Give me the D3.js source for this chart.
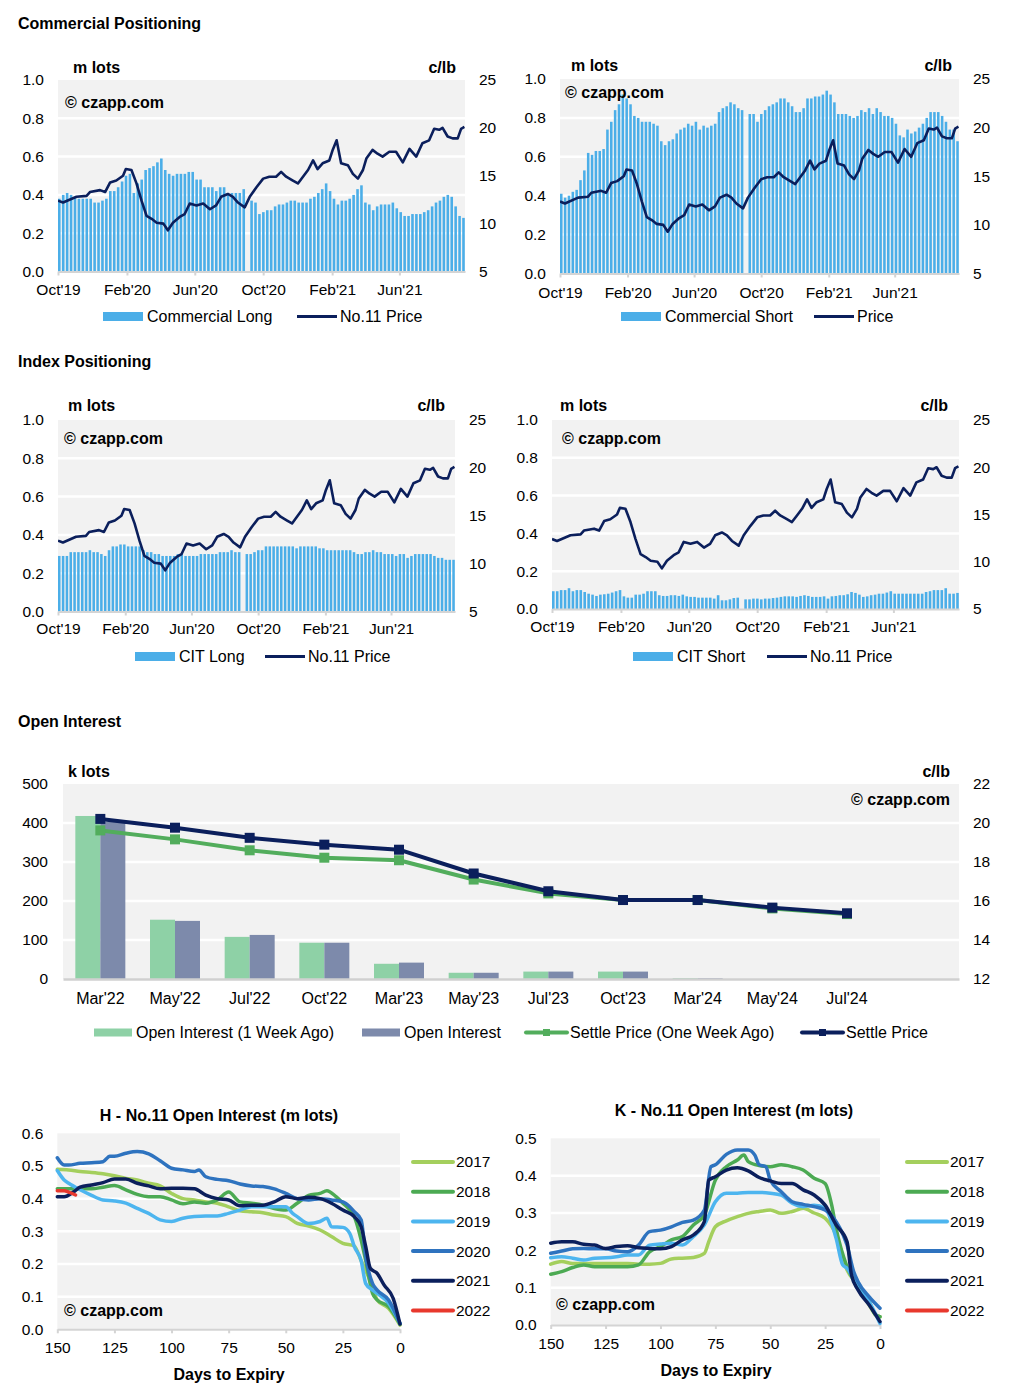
<!DOCTYPE html>
<html><head><meta charset="utf-8">
<script src="https://cdn.jsdelivr.net/npm/d3@7"></script>
<style>
body{margin:0;background:#fff;}
svg{display:block;font-family:"Liberation Sans",Arial,Helvetica,sans-serif;}
</style>
</head><body>
<svg id="c" width="1024" height="1400"></svg>
<script>
// ---------------- DATA ----------------
const weekStart = "2019-10-01";
const dateDomain = ["2019-10-01", "2021-09-26"];
const monthTicks = ["2019-10-01","2020-02-01","2020-06-01","2020-10-01","2021-02-01","2021-06-01"];
const monthTickLabels = ["Oct'19","Feb'20","Jun'20","Oct'20","Feb'21","Jun'21"];
const lotTicks = [0, 0.2, 0.4, 0.6, 0.8, 1.0];
const priceTicks = [5, 10, 15, 20, 25];

const commercialLong = [0.38,0.40,0.41,0.40,0.39,0.38,0.38,0.38,0.38,0.36,
 0.36,0.37,0.38,0.42,0.42,0.44,0.47,0.50,0.51,0.41,
 0.46,0.48,0.53,0.54,0.55,0.57,0.59,0.53,0.51,0.50,
 0.51,0.51,0.51,0.52,0.52,0.48,0.48,0.44,0.44,0.44,
 0.42,0.44,0.44,0.40,0.41,0.41,0.41,0.43,null,0.37,
 0.36,0.30,0.31,0.32,0.32,0.34,0.35,0.35,0.36,0.37,
 0.37,0.36,0.36,0.36,0.38,0.39,0.41,0.43,0.46,0.42,
 0.38,0.35,0.37,0.37,0.38,0.40,0.43,0.45,0.36,0.35,
 0.32,0.34,0.35,0.35,0.35,0.36,0.33,0.31,0.29,0.29,
 0.30,0.30,0.30,0.31,0.32,0.34,0.36,0.37,0.39,0.40,
 0.39,0.34,0.29,0.28];

const commercialShort = [0.41,0.39,0.40,0.42,0.43,0.48,0.53,0.62,0.61,0.63,
 0.63,0.64,0.74,0.78,0.84,0.87,0.92,0.90,0.87,0.81,
 0.80,0.78,0.78,0.78,0.77,0.76,0.68,0.66,0.68,0.69,
 0.72,0.74,0.75,0.77,0.76,0.78,0.74,0.76,0.75,0.76,
 0.77,0.83,0.85,0.86,0.88,0.87,0.85,0.84,null,0.82,
 0.82,0.78,0.82,0.84,0.86,0.87,0.88,0.90,0.90,0.88,
 0.86,0.83,0.83,0.85,0.90,0.90,0.91,0.91,0.92,0.94,
 0.92,0.88,0.82,0.82,0.82,0.81,0.80,0.81,0.84,0.83,
 0.85,0.82,0.85,0.83,0.81,0.81,0.80,0.77,0.71,0.70,
 0.74,0.72,0.73,0.75,0.77,0.80,0.83,0.83,0.83,0.81,
 0.78,0.74,0.74,0.68];

const citLong = [0.29,0.29,0.29,0.31,0.31,0.31,0.31,0.31,0.32,0.31,
 0.31,0.30,0.29,0.32,0.34,0.34,0.35,0.35,0.34,0.34,
 0.34,0.34,0.32,0.31,0.31,0.30,0.30,0.29,0.29,0.29,
 0.29,0.30,0.30,0.29,0.29,0.29,0.29,0.30,0.30,0.30,
 0.30,0.30,0.31,0.31,0.31,0.32,0.31,0.31,null,0.30,
 0.30,0.31,0.32,0.32,0.34,0.34,0.34,0.34,0.34,0.34,
 0.34,0.34,0.33,0.34,0.34,0.34,0.34,0.34,0.33,0.33,
 0.32,0.32,0.32,0.32,0.32,0.32,0.32,0.31,0.30,0.30,
 0.31,0.31,0.32,0.31,0.31,0.30,0.30,0.30,0.29,0.30,
 0.30,0.28,0.29,0.30,0.30,0.30,0.30,0.30,0.29,0.28,
 0.28,0.27,0.27,0.27];

const citShort = [0.094,0.094,0.10,0.10,0.11,0.094,0.10,0.10,0.09,0.081,
 0.076,0.069,0.076,0.078,0.081,0.087,0.094,0.10,0.067,0.06,
 0.06,0.076,0.076,0.081,0.094,0.094,0.094,0.073,0.069,0.069,
 0.073,0.073,0.069,0.076,0.067,0.064,0.064,0.06,0.06,0.06,
 0.06,0.055,0.073,0.046,0.046,0.051,0.058,0.06,null,0.051,
 0.051,0.055,0.055,0.051,0.055,0.055,0.058,0.06,0.064,0.067,
 0.067,0.067,0.064,0.069,0.073,0.069,0.064,0.064,0.064,0.067,
 0.055,0.067,0.069,0.073,0.073,0.078,0.09,0.085,0.076,0.064,
 0.067,0.073,0.076,0.081,0.081,0.087,0.094,0.081,0.081,0.081,
 0.081,0.081,0.081,0.081,0.081,0.09,0.094,0.10,0.10,0.10,
 0.11,0.081,0.081,0.085];

const priceDates = ["2019-10-01","2019-10-10","2019-11-03","2019-11-21","2019-11-27","2019-12-15","2019-12-24",
 "2020-01-02","2020-01-13","2020-01-25","2020-01-30","2020-02-09","2020-02-18","2020-02-27","2020-03-07",
 "2020-03-16","2020-03-25","2020-04-06","2020-04-14","2020-04-23","2020-05-05","2020-05-14","2020-05-23",
 "2020-06-04","2020-06-16","2020-06-28","2020-07-09","2020-07-18","2020-07-30","2020-08-08","2020-08-17",
 "2020-08-29","2020-09-07","2020-09-19","2020-10-01","2020-10-12","2020-10-24","2020-11-02","2020-11-11",
 "2020-11-23","2020-12-02","2020-12-11","2020-12-20","2020-12-29","2021-01-06","2021-01-15","2021-01-27",
 "2021-02-02","2021-02-09","2021-02-17","2021-03-01","2021-03-10","2021-03-19","2021-03-28","2021-04-03",
 "2021-04-14","2021-04-23","2021-05-02","2021-05-14","2021-05-26","2021-06-07","2021-06-19","2021-07-01",
 "2021-07-12","2021-07-24","2021-08-02","2021-08-11","2021-08-17","2021-08-26","2021-09-04","2021-09-13",
 "2021-09-19","2021-09-25"];
const priceValues = [12.4,12.2,12.8,12.9,13.3,13.5,13.3,
 14.3,14.5,15.0,15.7,15.6,14.2,12.4,10.8,
 10.5,10.1,10.0,9.3,10.1,10.7,11.0,12.1,
 11.9,12.1,11.5,11.9,12.8,13.1,12.8,12.2,
 11.7,12.8,13.8,14.7,14.9,14.9,15.4,14.9,
 14.5,14.2,14.9,15.6,16.6,15.7,16.3,16.6,
 17.7,18.7,16.3,16.1,15.2,14.7,15.6,16.8,
 17.7,17.3,17.0,17.5,17.5,16.4,17.8,17.0,
 18.4,18.7,19.9,19.8,20.0,19.1,18.9,18.9,
 19.9,20.1];

// Open interest by contract
const contracts = ["Mar'22","May'22","Jul'22","Oct'22","Mar'23","May'23","Jul'23","Oct'23","Mar'24","May'24","Jul'24",""];
const oiWeekAgo = [418,152,108,93,39,16,19,19,2,0,0];
const oiNow = [403,149,113,93,42,16,19,19,2,0,0];
const settleWeekAgo = [19.62,19.16,18.6,18.22,18.09,17.1,16.39,16.05,16.05,15.62,15.33];
const settleNow = [20.21,19.76,19.24,18.89,18.63,17.41,16.5,16.05,16.05,15.66,15.37];
const oiTicks = [0,100,200,300,400,500];
const settleTicks = [12,14,16,18,20,22];

// Seasonal open interest, [days to expiry, m lots]
const years = ["2017","2018","2019","2020","2021","2022"];
const dayTicks = [150,125,100,75,50,25,0];
const h2017 = [[150,0.49],[145,0.488],[140,0.483],[135,0.48],[130,0.476],[125,0.47],[120,0.462],[115,0.457],[110,0.447],[105,0.439],[100,0.416],[95,0.40],[90,0.396],[85,0.39],[80,0.386],[75,0.375],[70,0.363],[65,0.36],[60,0.357],[55,0.35],[50,0.345],[45,0.324],[40,0.316],[35,0.304],[30,0.284],[25,0.263],[20,0.255],[17,0.21],[15,0.18],[12,0.13],[10,0.09],[5,0.064],[0,0.013]];
const h2018 = [[150,0.43],[145,0.43],[140,0.43],[135,0.43],[130,0.435],[125,0.44],[120,0.427],[115,0.413],[110,0.406],[105,0.406],[100,0.396],[95,0.384],[90,0.39],[85,0.386],[80,0.396],[75,0.42],[70,0.39],[65,0.386],[60,0.38],[55,0.37],[50,0.365],[45,0.386],[40,0.41],[35,0.416],[32,0.424],[28,0.406],[25,0.386],[20,0.345],[17,0.273],[15,0.21],[12,0.11],[10,0.09],[5,0.07],[0,0.016]];
const h2019 = [[150,0.486],[147,0.457],[145,0.447],[140,0.427],[135,0.41],[130,0.396],[125,0.393],[120,0.386],[115,0.37],[110,0.355],[105,0.335],[100,0.33],[95,0.34],[90,0.345],[85,0.347],[80,0.347],[75,0.355],[70,0.365],[65,0.375],[60,0.375],[55,0.375],[50,0.375],[47,0.355],[45,0.345],[40,0.324],[35,0.33],[32,0.34],[30,0.314],[25,0.312],[22,0.294],[20,0.253],[17,0.21],[15,0.14],[12,0.12],[10,0.11],[5,0.08],[0,0.018]];
const h2020 = [[150,0.525],[147,0.503],[145,0.503],[140,0.508],[135,0.51],[130,0.513],[127,0.53],[125,0.53],[120,0.539],[115,0.544],[110,0.537],[105,0.516],[100,0.493],[95,0.488],[90,0.483],[88,0.488],[85,0.467],[80,0.459],[75,0.455],[70,0.445],[65,0.439],[60,0.437],[55,0.43],[50,0.416],[45,0.40],[40,0.396],[35,0.40],[30,0.396],[25,0.39],[22,0.375],[20,0.36],[17,0.335],[15,0.222],[12,0.14],[10,0.12],[5,0.09],[0,0.018]];
const h2021 = [[150,0.406],[147,0.406],[143,0.42],[140,0.435],[135,0.442],[130,0.449],[125,0.46],[120,0.46],[115,0.447],[110,0.439],[105,0.43],[100,0.432],[95,0.432],[90,0.43],[85,0.411],[80,0.40],[75,0.396],[70,0.378],[65,0.38],[60,0.38],[55,0.39],[50,0.406],[45,0.40],[40,0.404],[35,0.40],[30,0.386],[25,0.365],[20,0.345],[17,0.314],[15,0.253],[13,0.187],[10,0.171],[7,0.136],[3,0.095],[0,0.016]];
const h2022 = [[150,0.424],[147,0.424],[145,0.42],[142,0.411]];

const k2017 = [[150,0.163],[145,0.17],[140,0.165],[135,0.165],[130,0.165],[125,0.165],[120,0.165],[115,0.165],[110,0.163],[105,0.163],[100,0.165],[95,0.177],[90,0.179],[85,0.181],[80,0.192],[78,0.223],[75,0.263],[70,0.279],[65,0.29],[60,0.299],[55,0.304],[50,0.308],[45,0.299],[40,0.304],[35,0.3125],[30,0.30],[25,0.286],[20,0.241],[15,0.147],[10,0.107],[5,0.054],[2,0.027],[0,0.022]];
const k2018 = [[150,0.136],[145,0.143],[140,0.154],[135,0.161],[130,0.156],[125,0.156],[120,0.156],[115,0.156],[110,0.161],[105,0.196],[100,0.21],[95,0.228],[90,0.237],[85,0.268],[80,0.295],[75,0.388],[70,0.424],[65,0.442],[62,0.455],[60,0.4375],[55,0.427],[50,0.424],[45,0.429],[40,0.424],[35,0.415],[30,0.393],[25,0.379],[22,0.321],[20,0.259],[15,0.156],[10,0.103],[5,0.0625],[2,0.027],[0,0.022]];
const k2019 = [[150,0.18],[145,0.183],[140,0.179],[135,0.174],[130,0.179],[125,0.18],[120,0.183],[115,0.1875],[110,0.1875],[105,0.214],[100,0.217],[95,0.219],[90,0.214],[85,0.237],[80,0.268],[75,0.33],[70,0.353],[65,0.353],[60,0.355],[55,0.355],[50,0.353],[45,0.348],[40,0.326],[35,0.317],[30,0.321],[25,0.3125],[20,0.232],[17,0.161],[15,0.152],[10,0.098],[5,0.0625],[0,0.004]];
const k2020 = [[150,0.192],[145,0.198],[140,0.204],[135,0.205],[130,0.204],[125,0.204],[120,0.198],[115,0.196],[110,0.214],[105,0.25],[100,0.254],[95,0.263],[90,0.275],[85,0.281],[80,0.308],[77,0.424],[75,0.429],[70,0.457],[65,0.469],[60,0.469],[57,0.455],[55,0.429],[52,0.424],[50,0.388],[45,0.357],[40,0.33],[35,0.323],[30,0.317],[25,0.308],[20,0.277],[15,0.214],[12,0.143],[10,0.116],[5,0.076],[0,0.045]];
const k2021 = [[150,0.219],[145,0.223],[140,0.223],[135,0.216],[130,0.214],[125,0.205],[120,0.21],[115,0.2125],[110,0.207],[105,0.205],[100,0.204],[95,0.21],[90,0.228],[85,0.241],[80,0.277],[78,0.388],[75,0.397],[70,0.415],[65,0.421],[60,0.4125],[55,0.395],[50,0.386],[45,0.379],[40,0.379],[35,0.362],[30,0.348],[25,0.321],[20,0.268],[15,0.223],[13,0.134],[10,0.094],[5,0.054],[0,0.009]];
const k2022 = [];

// ---------------- STYLE ----------------
const FONT = '"Liberation Sans", Arial, Helvetica, sans-serif';
const NAVY = "#0b1f5c";
const BAR_BLUE = "#4baee8";
const BG = "#f2f2f2";
const AXIS_GRAY = "#d4d4d4";
const yearColors = ["#a4cf5d","#4caa53","#4db5ef","#2e73bf","#0b1f5c","#e8382d"];

const svg = d3.select("#c");
const parse = d3.timeParse("%Y-%m-%d");

function label(x, y, str, o = {}) {
  return svg.append("text").attr("x", x).attr("y", y).attr("dy", "0.35em")
    .attr("text-anchor", o.anchor || "start")
    .attr("font-size", o.size || 16)
    .attr("font-weight", o.bold ? "bold" : "normal")
    .attr("fill", "#000").text(str);
}

function styleAxis(sel, size) {
  sel.attr("font-family", FONT).attr("font-size", size || 15.5);
  sel.selectAll("text").attr("fill", "#000");
  sel.selectAll("line").attr("stroke", AXIS_GRAY).attr("stroke-width", 2);
  sel.select(".domain").attr("stroke", AXIS_GRAY).attr("stroke-width", 2);
}

// ---------------- TOP PANELS ----------------
const priceData = priceDates.map((d, i) => ({ date: parse(d), v: priceValues[i] }));

function topPanel(o) {
  const g = svg.append("g");
  const x = d3.scaleTime().domain(dateDomain.map(parse)).range([o.left, o.right]);
  const yL = d3.scaleLinear().domain([0, 1]).range([o.bottom, o.top]);
  const yR = d3.scaleLinear().domain([5, 25]).range([o.bottom, o.top]);

  g.append("rect").attr("x", o.left).attr("y", o.top).attr("width", o.right - o.left)
    .attr("height", o.bottom - o.top).attr("fill", BG);
  g.selectAll(null).data(lotTicks.slice(1, -1)).enter().append("line")
    .attr("x1", o.left).attr("x2", o.right).attr("y1", d => yL(d)).attr("y2", d => yL(d))
    .attr("stroke", "#fff").attr("stroke-width", 2.5);

  const start = parse(weekStart);
  const bw = (x(d3.timeDay.offset(start, 7)) - x(start)) * 0.66;
  const bars = o.values.map((v, i) => ({ date: d3.timeDay.offset(start, 7 * i), v }))
    .filter(d => d.v !== null);
  g.selectAll(null).data(bars).enter().append("rect")
    .attr("x", d => x(d.date)).attr("width", bw)
    .attr("y", d => yL(d.v)).attr("height", d => yL(0) - yL(d.v))
    .attr("fill", BAR_BLUE);

  // x axis
  const ax = g.append("g").attr("transform", `translate(0,${o.bottom})`)
    .call(d3.axisBottom(x).tickValues(monthTicks.map(parse))
      .tickFormat((d, i) => monthTickLabels[i]).tickSize(4).tickSizeOuter(0));
  styleAxis(ax, 15.5);
  ax.selectAll("text").attr("y", o.xlab - o.bottom).attr("dy", "0.35em");

  const ay = g.append("g").attr("transform", `translate(${o.left},0)`)
    .call(d3.axisLeft(yL).tickValues(lotTicks).tickFormat(d3.format(".1f")).tickSize(0).tickPadding(14));
  styleAxis(ay, 15.5); ay.select(".domain").remove();
  const ar = g.append("g").attr("transform", `translate(${o.right},0)`)
    .call(d3.axisRight(yR).tickValues(priceTicks).tickSize(0).tickPadding(14));
  styleAxis(ar, 15.5); ar.select(".domain").remove();

  // watermark
  label(o.wmX, o.wmY, "© czapp.com", { bold: true, size: 16 });

  // price line
  const clipId = "clip" + o.id;
  svg.append("clipPath").attr("id", clipId).append("rect")
    .attr("x", o.left).attr("y", o.top - 5).attr("width", o.right - o.left).attr("height", o.bottom - o.top + 5);
  g.append("path").datum(priceData).attr("clip-path", `url(#${clipId})`)
    .attr("fill", "none").attr("stroke", NAVY).attr("stroke-width", 2.6).attr("stroke-linejoin", "round")
    .attr("d", d3.line().x(d => x(d.date)).y(d => yR(d.v)));

  label(o.mlX, o.unitY, "m lots", { bold: true, size: 16 });
  label(o.clbX, o.unitY, "c/lb", { bold: true, size: 16, anchor: "end" });

  // legend
  g.append("rect").attr("x", o.lg[0]).attr("y", o.lgY - 4.5).attr("width", 40).attr("height", 9).attr("fill", BAR_BLUE);
  label(o.lg[0] + 44, o.lgY, o.barName, { size: 16 });
  g.append("line").attr("x1", o.lg[1]).attr("x2", o.lg[1] + 40).attr("y1", o.lgY).attr("y2", o.lgY)
    .attr("stroke", NAVY).attr("stroke-width", 3);
  label(o.lg[1] + 43, o.lgY, o.lineName, { size: 16 });
}

label(18, 23, "Commercial Positioning", { bold: true, size: 16 });
label(18, 361, "Index Positioning", { bold: true, size: 16 });
label(18, 721, "Open Interest", { bold: true, size: 16 });

topPanel({ id: 1, left: 58, right: 465, top: 80, bottom: 271.5, xlab: 290, values: commercialLong,
  wmX: 65, wmY: 102, mlX: 73, clbX: 456, unitY: 67, lgY: 316.5, lg: [103, 297],
  barName: "Commercial Long", lineName: "No.11 Price" });
topPanel({ id: 2, left: 560, right: 959, top: 79, bottom: 273.5, xlab: 292.5, values: commercialShort,
  wmX: 565, wmY: 92, mlX: 571, clbX: 952, unitY: 65, lgY: 316.5, lg: [621, 814],
  barName: "Commercial Short", lineName: "Price" });
topPanel({ id: 3, left: 58, right: 455, top: 420, bottom: 611.5, xlab: 628.5, values: citLong,
  wmX: 64, wmY: 438, mlX: 68, clbX: 445, unitY: 405, lgY: 656.5, lg: [135, 265],
  barName: "CIT Long", lineName: "No.11 Price" });
topPanel({ id: 4, left: 552, right: 959, top: 420, bottom: 609, xlab: 626.5, values: citShort,
  wmX: 562, wmY: 438, mlX: 560, clbX: 948, unitY: 405, lgY: 656.5, lg: [633, 767],
  barName: "CIT Short", lineName: "No.11 Price" });

// ---------------- OPEN INTEREST ----------------
(function () {
  const o = { left: 63, right: 959, top: 784, bottom: 979 };
  const GREEN_BAR = "#8ed1a6", GRAY_BAR = "#7d8aab", GREEN_LINE = "#52ad5c";
  const x = d3.scaleBand().domain(d3.range(contracts.length)).range([o.left, o.right]);
  const y = d3.scaleLinear().domain([0, 500]).range([o.bottom, o.top]);
  const yP = d3.scaleLinear().domain([12, 22]).range([o.bottom, o.top]);
  const g = svg.append("g");
  g.append("rect").attr("x", o.left).attr("y", o.top).attr("width", o.right - o.left)
    .attr("height", o.bottom - o.top).attr("fill", BG);
  g.selectAll(null).data(oiTicks.slice(1, -1)).enter().append("line")
    .attr("x1", o.left).attr("x2", o.right).attr("y1", d => y(d)).attr("y2", d => y(d))
    .attr("stroke", "#fff").attr("stroke-width", 2.5);
  const bw = 25;
  const cx = i => x(i) + x.bandwidth() / 2;
  g.selectAll(null).data(oiWeekAgo).enter().append("rect")
    .attr("x", (d, i) => cx(i) - bw).attr("width", bw)
    .attr("y", d => y(d)).attr("height", d => y(0) - y(d)).attr("fill", GREEN_BAR);
  g.selectAll(null).data(oiNow).enter().append("rect")
    .attr("x", (d, i) => cx(i)).attr("width", bw)
    .attr("y", d => y(d)).attr("height", d => y(0) - y(d)).attr("fill", GRAY_BAR);

  const ax = g.append("g").attr("transform", `translate(0,${o.bottom})`)
    .call(d3.axisBottom(x).tickFormat(i => contracts[i]).tickSize(0).tickSizeOuter(0));
  styleAxis(ax, 16);
  ax.select(".domain").attr("stroke", "#d0d0d0").attr("stroke-width", 2.5);
  ax.selectAll("text").attr("y", 19).attr("dy", "0.35em");

  const ay = g.append("g").attr("transform", `translate(${o.left},0)`)
    .call(d3.axisLeft(y).tickValues(oiTicks).tickSize(0).tickPadding(15));
  styleAxis(ay, 15.5); ay.select(".domain").remove();
  const ar = g.append("g").attr("transform", `translate(${o.right},0)`)
    .call(d3.axisRight(yP).tickValues(settleTicks).tickSize(0).tickPadding(14));
  styleAxis(ar, 15.5); ar.select(".domain").remove();

  const line = d3.line().x((d, i) => cx(i)).y(d => yP(d));
  [[settleWeekAgo, GREEN_LINE], [settleNow, NAVY]].forEach(([data, col]) => {
    g.append("path").datum(data).attr("fill", "none").attr("stroke", col)
      .attr("stroke-width", 4).attr("stroke-linejoin", "round").attr("d", line);
    g.selectAll(null).data(data).enter().append("rect")
      .attr("x", (d, i) => cx(i) - 5).attr("y", d => yP(d) - 5)
      .attr("width", 10).attr("height", 10).attr("fill", col);
  });

  label(68, 771.5, "k lots", { bold: true, size: 16 });
  label(950, 771.5, "c/lb", { bold: true, size: 16, anchor: "end" });
  label(950, 799.5, "© czapp.com", { bold: true, size: 16, anchor: "end" });

  const ly = 1032.5;
  g.append("rect").attr("x", 94).attr("y", ly - 4).attr("width", 38).attr("height", 8).attr("fill", GREEN_BAR);
  label(136, ly, "Open Interest (1 Week Ago)", { size: 16 });
  g.append("rect").attr("x", 362).attr("y", ly - 4).attr("width", 38).attr("height", 8).attr("fill", GRAY_BAR);
  label(404, ly, "Open Interest", { size: 16 });
  [[526, GREEN_LINE, "Settle Price (One Week Ago)"], [802, NAVY, "Settle Price"]].forEach(([lx, col, name]) => {
    g.append("line").attr("x1", lx).attr("x2", lx + 41).attr("y1", ly).attr("y2", ly)
      .attr("stroke", col).attr("stroke-width", 4).attr("stroke-linecap", "round");
    g.append("rect").attr("x", lx + 20.5 - 3.5).attr("y", ly - 3.5).attr("width", 7).attr("height", 7).attr("fill", col);
    label(lx + 44, ly, name, { size: 16 });
  });
})();

// ---------------- SEASONAL PANELS ----------------
function seasonPanel(o) {
  const g = svg.append("g");
  const x = d3.scaleLinear().domain([150, 0]).range([o.left, o.right]);
  const y = d3.scaleLinear().domain([0, o.ymax]).range([o.bottom, o.top]);
  const yt = d3.range(0, o.ymax + 0.001, 0.1);
  g.append("rect").attr("x", o.left).attr("y", o.top).attr("width", o.right - o.left)
    .attr("height", o.bottom - o.top).attr("fill", BG);
  g.selectAll(null).data(yt.slice(1, -1)).enter().append("line")
    .attr("x1", o.left).attr("x2", o.right).attr("y1", d => y(d)).attr("y2", d => y(d))
    .attr("stroke", "#fff").attr("stroke-width", 2.5);

  const ax = g.append("g").attr("transform", `translate(0,${o.bottom})`)
    .call(d3.axisBottom(x).tickValues(dayTicks).tickSize(4).tickSizeOuter(0));
  styleAxis(ax, 15.5);
  ax.selectAll("text").attr("y", o.xlab - o.bottom).attr("dy", "0.35em");
  const ay = g.append("g").attr("transform", `translate(${o.left},0)`)
    .call(d3.axisLeft(y).tickValues(yt).tickFormat(d3.format(".1f")).tickSize(0).tickPadding(14));
  styleAxis(ay, 15.5); ay.select(".domain").remove();

  label(o.wmX, o.wmY, "© czapp.com", { bold: true, size: 16 });

  const line = d3.line().x(d => x(d[0])).y(d => y(d[1])).curve(d3.curveMonotoneX);
  o.series.forEach((s, i) => {
    if (!s.length) return;
    g.append("path").datum(s).attr("fill", "none").attr("stroke", yearColors[i])
      .attr("stroke-width", 3.5).attr("stroke-linejoin", "round").attr("stroke-linecap", "round")
      .attr("d", line);
  });

  label(o.titleX, o.titleY, o.title, { bold: true, size: 16, anchor: "middle" });
  label(o.axTitleX, o.axTitleY, "Days to Expiry", { bold: true, size: 16, anchor: "middle" });

  years.forEach((yr, i) => {
    const ly = o.lgY + i * 29.7;
    g.append("line").attr("x1", o.lgX).attr("x2", o.lgX + 40).attr("y1", ly).attr("y2", ly)
      .attr("stroke", yearColors[i]).attr("stroke-width", 4).attr("stroke-linecap", "round");
    label(o.lgX + 43, ly, yr, { size: 15.5 });
  });
}

seasonPanel({ left: 57.3, right: 400, top: 1133.3, bottom: 1329.3, ymax: 0.6, xlab: 1348,
  series: [h2017, h2018, h2019, h2020, h2021, h2022],
  title: "H - No.11 Open Interest (m lots)", titleX: 219, titleY: 1115, axTitleX: 229, axTitleY: 1374,
  wmX: 64, wmY: 1310, lgX: 413, lgY: 1162 });
seasonPanel({ left: 550.7, right: 880, top: 1138.3, bottom: 1325, ymax: 0.5, xlab: 1343.5,
  series: [k2017, k2018, k2019, k2020, k2021, k2022],
  title: "K - No.11 Open Interest (m lots)", titleX: 734, titleY: 1110.5, axTitleX: 716, axTitleY: 1370,
  wmX: 556, wmY: 1304, lgX: 907, lgY: 1162 });
</script>
</body></html>
